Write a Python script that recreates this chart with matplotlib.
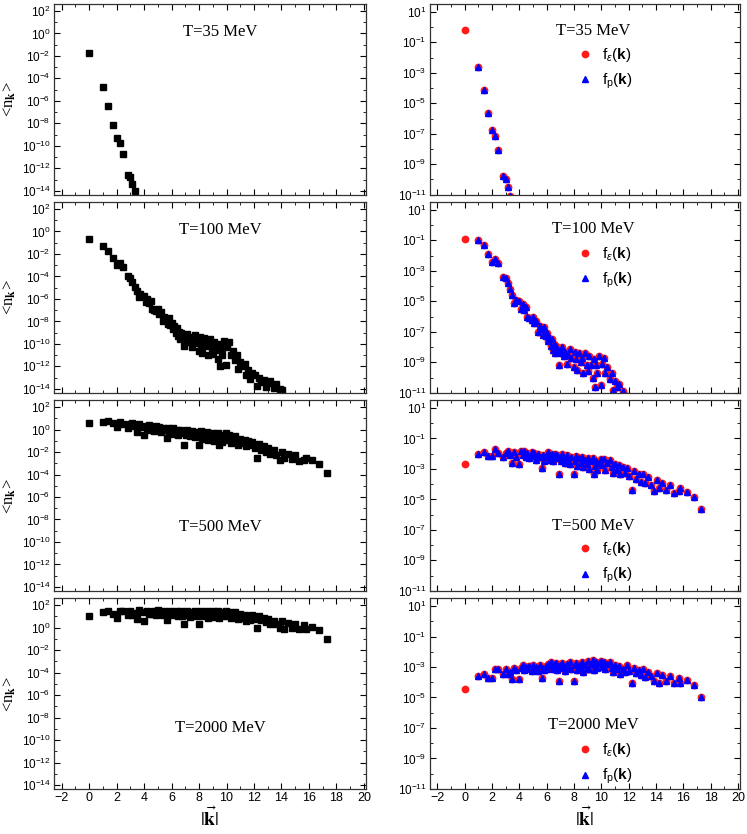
import numpy as np
import matplotlib
matplotlib.use('Agg')
import matplotlib.pyplot as plt
from matplotlib.ticker import FixedLocator, LogFormatterSciNotation, MultipleLocator, NullFormatter
from matplotlib.lines import Line2D

plt.rcParams.update({
    'font.family': 'Liberation Sans',
    'mathtext.fontset': 'custom',
    'mathtext.rm': 'Liberation Sans',
    'mathtext.bf': 'Liberation Sans:bold',
    'mathtext.it': 'Liberation Sans:italic',
    'xtick.direction': 'in', 'ytick.direction': 'in',
    'xtick.top': True, 'ytick.right': True,
    'xtick.minor.visible': True,
})

# ---------------- data (log10 of the plotted values) ----------------
temps = ['35', '100', '500', '2000']

k_35 = [0, 1, 1.41, 1.73, 2, 2.24, 2.45, 2.83, 3, 3.16, 3.32]
lg_n_35 = [-1.78, -4.76, -6.42, -8.12, -9.34, -9.79, -10.74, -12.58, -12.8, -13.36, -14.0]
lg_fp_35 = [-2.59, -4.1, -5.62, -6.78, -7.17, -8.05, -9.8, -10.0, -10.5, -11.1]

k_100 = [0, 1, 1.41, 1.73, 2, 2.24, 2.45, 2.83, 3, 3.16,
         3.32, 3.46, 3.61, 3.74, 4, 4.12, 4.24, 4.36, 4.47, 4.58,
         4.69, 4.90, 5, 5.10, 5.20, 5.39, 5.48, 5.66, 5.74, 5.83,
         5.92, 6.00, 6.08, 6.16, 6.32, 6.40, 6.48, 6.56, 6.63, 6.71,
         6.78, 6.93, 7.00, 7.07, 7.14, 7.28, 7.35, 7.48, 7.55, 7.68,
         7.81, 8.00, 8.06, 8.12, 8.25, 8.37, 8.49, 8.60, 8.66, 8.77,
         8.94, 9.00, 9.06, 9.22, 9.38, 9.43, 9.54, 9.64, 9.70, 9.85,
         9.95, 10.05, 10.20, 10.30, 10.44, 10.63, 10.77, 10.86, 11.00, 11.18,
         11.31, 11.40, 11.58, 11.70, 11.87, 12.04, 12.21, 12.37, 12.53, 12.73,
         12.88, 13.04, 13.19, 13.42, 13.60, 13.86, 14.07]
lg_n_100 = [-0.7, -1.3, -1.7, -2.4, -3.0, -2.8, -3.2, -4.0, -4.1, -4.5,
            -4.9, -5.3, -5.8, -5.6, -5.7, -6.3, -6.0, -6.4, -6.2, -6.9,
            -7.0, -7.1, -6.9, -7.3, -7.2, -8.0, -7.6, -7.8, -8.2, -7.7,
            -8.3, -8.1, -8.7, -8.4, -9.0, -8.6, -9.3, -8.9, -9.6, -9.0,
            -9.4, -10.2, -9.3, -9.6, -9.1, -9.8, -9.4, -10.3, -9.7, -9.2,
            -9.9, -10.6, -9.4, -10.0, -10.8, -9.5, -10.2, -9.9, -11.0, -9.6,
            -10.4, -10.9, -9.8, -10.5, -11.3, -10.0, -12.0, -10.4, -11.0, -9.7,
            -11.9, -10.3, -9.8, -11.0, -10.6, -11.4, -11.0, -12.2, -11.6, -12.0,
            -11.8, -12.8, -12.3, -13.1, -12.6, -12.8, -13.7, -13.0, -13.4, -13.2,
            -13.8, -13.5, -13.3, -13.9, -13.6, -14.0, -14.1]
lg_fp_100 = [-1.0, -1.3, -1.9, -2.4, -2.2, -2.5, -3.4, -3.5, -3.8,
             -4.2, -4.6, -5.1, -4.9, -5.0, -5.5, -5.2, -5.6, -5.4, -6.0,
             -6.1, -6.2, -6.0, -6.4, -6.3, -7.0, -6.6, -6.8, -7.2, -6.7,
             -7.3, -7.1, -7.6, -7.4, -7.9, -7.5, -8.2, -7.8, -8.4, -7.9,
             -8.3, -9.2, -8.2, -8.4, -8.0, -8.6, -8.3, -9.1, -8.5, -8.1,
             -8.7, -9.3, -8.3, -8.8, -9.5, -8.4, -9.0, -8.7, -9.7, -8.4,
             -9.2, -9.6, -8.6, -9.2, -10.0, -8.8, -10.6, -9.2, -9.7, -8.6,
             -10.5, -9.1, -8.7, -9.7, -9.3, -10.1, -9.7, -10.8, -10.2, -10.6,
             -10.4, -11.3, -10.9, -11.6, -11.2]

k_500 = [0, 1, 1.41, 1.73, 2, 2.24, 2.45, 2.83, 3, 3.16,
         3.32, 3.46, 3.61, 3.74, 4, 4.12, 4.24, 4.36, 4.47, 4.58,
         4.69, 4.90, 5, 5.10, 5.20, 5.39, 5.48, 5.66, 5.74, 5.83,
         5.92, 6.00, 6.08, 6.16, 6.32, 6.40, 6.48, 6.56, 6.63, 6.71,
         6.78, 6.93, 7.00, 7.07, 7.14, 7.28, 7.35, 7.48, 7.55, 7.68,
         7.81, 8.00, 8.06, 8.12, 8.25, 8.37, 8.49, 8.60, 8.66, 8.77,
         8.94, 9.00, 9.06, 9.22, 9.38, 9.43, 9.54, 9.64, 9.70, 9.85,
         9.95, 10.05, 10.20, 10.30, 10.44, 10.63, 10.77, 10.86, 11.00, 11.18,
         11.31, 11.40, 11.58, 11.70, 11.87, 12.04, 12.21, 12.37, 12.53, 12.73,
         12.88, 13.04, 13.19, 13.42, 13.60, 13.86, 14.04, 14.21, 14.46, 14.76,
         15.00, 15.30, 15.65, 15.78, 16.25, 16.76, 17.32]
lg_n_500 = [0.57, 0.66, 0.8, 0.55, 0.25, 0.7, 0.45, 0.15, 0.45, 0.6,
            0.3, -0.2, 0.5, 0.2, -0.5, 0.35, 0.1, 0.4, 0.0, 0.25,
            -0.1, 0.3, 0.05, 0.25, -0.2, 0.15, -0.05, -0.75, 0.1, -0.3,
            0.05, -0.15, 0.1, -0.4, -0.1, 0.0, -0.5, -0.2, 0.0, -0.3,
            -0.1, -1.35, -0.2, -0.5, -0.05, -0.35, -0.6, -0.1, -0.4, -0.7,
            -0.2, -1.35, -0.5, -0.15, -0.8, -0.3, -0.6, -0.2, -0.9, -0.4,
            -0.7, -0.3, -1.0, -0.5, -0.3, -1.35, -0.8, -0.45, -1.1, -0.6,
            -0.35, -0.9, -0.5, -1.2, -0.75, -0.55, -1.0, -1.4, -0.8, -1.2,
            -0.9, -1.5, -1.0, -1.4, -1.1, -1.6, -2.55, -1.3, -1.8, -1.5,
            -2.0, -1.6, -2.2, -1.8, -2.3, -2.7, -2.0, -2.5, -2.2, -2.6,
            -2.3, -2.8, -2.7, -2.5, -2.75, -3.1, -3.9]
lg_fp_500 = [-2.05, -1.9, -2.15, -2.15, -1.7, -1.95, -2.25, -1.95, -1.8,
             -2.1, -2.6, -1.9, -2.2, -2.7, -1.85, -2.1, -1.8, -2.2, -1.95,
             -2.3, -1.9, -2.15, -1.95, -2.4, -2.05, -2.25, -2.95, -2.1, -2.5,
             -2.15, -2.15, -1.9, -2.4, -2.1, -2.0, -2.5, -2.2, -2.0, -2.3,
             -2.1, -3.35, -2.2, -2.5, -2.05, -2.35, -2.6, -2.1, -2.4, -2.7,
             -2.2, -3.35, -2.5, -2.15, -2.8, -2.3, -2.6, -2.2, -2.9, -2.4,
             -2.7, -2.3, -3.0, -2.5, -2.3, -3.35, -2.8, -2.45, -3.1, -2.6,
             -2.35, -2.75, -2.35, -3.05, -2.6, -2.4, -2.85, -3.25, -2.65, -3.05,
             -2.75, -3.35, -2.85, -3.25, -2.95, -3.45, -4.4, -3.15, -3.65, -3.35,
             -3.85, -3.35, -3.95, -3.55, -4.05, -4.45, -3.75, -4.25, -3.95, -4.35,
             -4.05, -4.55, -4.45, -4.25, -4.5, -4.85, -5.65]

lg_n_2000 = [1.05, 1.35, 1.5, 1.2, 0.9, 1.5, 1.45, 1.15, 1.45, 1.15,
             1.3, 0.8, 1.55, 1.4, 0.6, 1.35, 1.5, 1.2, 1.4, 1.25,
             1.45, 1.15, 1.55, 1.3, 1.4, 1.15, 1.5, 0.7, 1.35, 1.2,
             1.45, 1.1, 1.4, 1.25, 1.5, 1.3, 1.05, 1.4, 1.2, 1.45,
             1.0, 0.3, 1.35, 1.15, 1.45, 1.25, 0.95, 1.4, 1.2, 1.5,
             1.05, 0.3, 1.3, 1.45, 1.0, 1.35, 1.15, 1.5, 0.9, 1.3,
             1.1, 1.45, 0.95, 1.25, 1.5, 0.85, 1.2, 1.4, 1.0, 1.3,
             1.45, 1.05, 1.35, 0.9, 1.25, 1.4, 1.0, 0.75, 1.2, 0.9,
             1.1, 0.6, 0.95, 0.7, 1.15, 0.8, 0.0, 1.0, 0.65, 0.85,
             0.5, 0.8, 0.3, 0.6, 0.35, 0.0, 0.55, -0.1, 0.4, 0.0,
             0.35, -0.1, 0.25, -0.1, 0.1, -0.2, -1.05]
lg_fp_2000 = [-3.6, -3.45, -3.75, -3.7, -3.1, -3.15, -3.45, -3.15, -3.45,
              -3.3, -3.8, -3.05, -3.2, -3.8, -3.05, -2.9, -3.2, -3.0, -3.15,
              -2.95, -3.25, -2.85, -3.1, -3.0, -3.25, -2.9, -3.7, -3.05, -3.2,
              -2.95, -3.1, -2.8, -2.95, -2.7, -2.9, -3.15, -2.8, -3.0, -2.75,
              -3.2, -3.9, -2.85, -3.05, -2.75, -2.95, -3.25, -2.8, -3.0, -2.7,
              -3.15, -3.9, -2.9, -2.75, -3.2, -2.85, -3.05, -2.7, -3.3, -2.9,
              -3.1, -2.6, -3.1, -2.8, -2.55, -3.2, -2.85, -2.65, -3.05, -2.75,
              -2.6, -3.0, -2.7, -3.15, -2.8, -2.65, -3.05, -3.3, -2.85, -3.15,
              -2.95, -3.45, -3.1, -3.35, -2.9, -3.25, -4.05, -3.05, -3.4, -3.2,
              -3.55, -3.15, -3.65, -3.35, -3.6, -3.95, -3.4, -4.05, -3.55, -3.95,
              -3.6, -4.05, -3.7, -4.05, -3.85, -4.15, -5.0]

# f_eps at k=0 (only the red circle is visible there)
lg_fe0 = [-0.18, -0.88, -2.7, -4.45]

left_k = [k_35, k_100, k_500, k_500]
left_lg = [lg_n_35, lg_n_100, lg_n_500, lg_n_2000]
right_lg = [lg_fp_35, lg_fp_100, lg_fp_500, lg_fp_2000]

# ---------------- layout ----------------
fig = plt.figure(figsize=(7.47, 8.34), dpi=100)
bottoms = [0.7665, 0.5290, 0.2915, 0.0540]
h = 0.2285
lx, lw = 0.0723, 0.4177
rx, rw = 0.5756, 0.415

t_left_y = [0.855, 0.855, 0.333, 0.32]
t_right_y = [0.86, 0.86, 0.34, 0.335]
leg_top = [0.78, 0.775, 0.265, 0.25]


def style_axis(ax, exps_major, exps_minor, ylim, last):
    ax.set_yscale('log')
    ax.set_xlim(-2.55, 20.15)
    ax.set_ylim(*ylim)
    ax.xaxis.set_major_locator(MultipleLocator(2))
    ax.xaxis.set_minor_locator(MultipleLocator(1))
    ax.yaxis.set_major_locator(FixedLocator([10.0 ** e for e in exps_major]))
    ax.yaxis.set_minor_locator(FixedLocator([10.0 ** e for e in exps_minor]))
    ax.yaxis.set_major_formatter(LogFormatterSciNotation())
    ax.yaxis.set_minor_formatter(NullFormatter())
    ax.tick_params(which='major', length=4, width=0.8, labelsize=8.5, pad=2.5)
    ax.tick_params(axis='x', labelsize=9)
    ax.tick_params(which='minor', length=2, width=0.6)
    if not last:
        ax.tick_params(axis='x', labelbottom=False)
    for s in ax.spines.values():
        s.set_linewidth(0.9)
        s.set_color('#333333')
    if last:
        ax.set_xlabel(r'$|\vec{\mathbf{k}}|$', fontsize=14, math_fontfamily='stix')
        ax.xaxis.set_label_coords(0.5, -0.09)


for i in range(4):
    last = (i == 3)
    # left: <n_k>
    ax = fig.add_axes([lx, bottoms[i], lw, h])
    k = np.array(left_k[i])
    ax.plot(k, 10.0 ** np.array(left_lg[i]), 's', color='black', ms=4, ls='none')
    style_axis(ax, range(-14, 3, 2), range(-13, 2, 2), (10 ** -14.35, 10 ** 2.6), last)
    ax.set_ylabel('<n$_{\\mathbf{k}}$>', fontsize=12, family='Liberation Serif',
                  math_fontfamily='stix')
    ax.yaxis.set_label_coords(-0.115, 0.5)
    ax.text(0.532, t_left_y[i], 'T=%s MeV' % temps[i], transform=ax.transAxes,
            ha='center', va='center', fontsize=12, family='Liberation Serif')

    # right: f_eps and f_p
    ax = fig.add_axes([rx, bottoms[i], rw, h])
    lg_fp = right_lg[i]
    k_fp = np.array(left_k[i][1:1 + len(lg_fp)])
    k_fe = np.concatenate([[0.0], k_fp])
    lg_fe = np.concatenate([[lg_fe0[i]], lg_fp])
    ax.plot(k_fe, 10.0 ** lg_fe, 'o', color='#ff1a1a', ms=4.6, ls='none')
    ax.plot(k_fp, 10.0 ** np.array(lg_fp), '^', color='#0000ff', ms=4.6, ls='none')
    style_axis(ax, range(-11, 2, 2), range(-10, 1, 2), (10 ** -11.0, 10 ** 1.5), last)
    ax.text(0.526, t_right_y[i], 'T=%s MeV' % temps[i], transform=ax.transAxes,
            ha='center', va='center', fontsize=12, family='Liberation Serif')
    handles = [Line2D([], [], marker='o', color='#ff1a1a', ls='none', ms=4.6),
               Line2D([], [], marker='^', color='#0000ff', ls='none', ms=4.6)]
    labels = [r'f$_{\varepsilon}$($\mathbf{k}$)', r'f$_{\mathrm{p}}$($\mathbf{k}$)']
    ax.legend(handles, labels, loc='upper left', bbox_to_anchor=(0.476, leg_top[i]),
              frameon=False, fontsize=11, handlelength=1.0, handletextpad=0.6,
              borderpad=0, borderaxespad=0, labelspacing=0.5)

fig.savefig('out.png', dpi=100)
